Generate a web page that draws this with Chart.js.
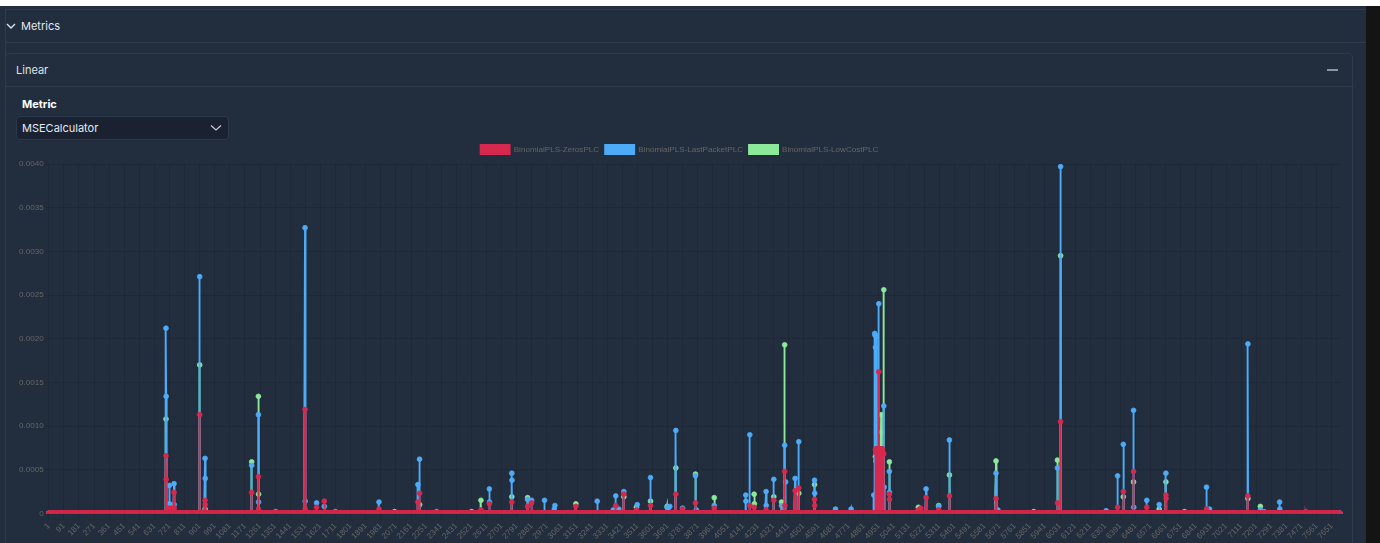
<!DOCTYPE html>
<html>
<head>
<meta charset="utf-8">
<script src="https://cdn.jsdelivr.net/npm/chart.js@4.4.0/dist/chart.umd.min.js"></script>
<style>
  html, body { margin:0; padding:0; width:1380px; height:543px; overflow:hidden; background:#222d3e; font-family: Inter, "Liberation Sans", sans-serif; }
  .abs { position:absolute; }
  #topwhite { left:0; top:0; width:1380px; height:6px; background:#ffffff; }
  #rstrip { left:1366px; top:6px; width:14px; height:537px; background:#141414; }
  #topline { left:5px; top:9px; width:1361px; height:1px; background:#2e3a4d; }
  #leftline { left:5px; top:9px; width:1px; height:534px; background:#2e3a4d; }
  #hdrline { left:5px; top:42px; width:1361px; height:1px; background:#2e3a4d; }
  #metrics { left:21px; top:18px; font-size:11px; color:#e4e7ec; line-height:16px; }
  #chev { left:5px; top:20px; }
  #panel { left:5px; top:53px; width:1348px; height:520px; border:1px solid #2e3a4d; border-radius:4px; box-sizing:border-box; }
  #panelline { left:5px; top:86px; width:1349px; height:1px; background:#2e3a4d; }
  #linear { left:16px; top:62px; font-size:11px; color:#dfe3e8; line-height:16px; }
  #dash { left:1327px; top:69px; width:11px; height:2px; background:#8f959e; }
  #metric { left:22px; top:96px; font-size:11px; font-weight:700; color:#ffffff; line-height:16px; }
  #select { left:16px; top:116px; width:213px; height:24px; background:#1a2232; border:1px solid #2c384b; border-radius:4px; box-sizing:border-box; }
  #selText { left:22px; top:120px; font-size:11px; color:#e6e9ee; line-height:16px; }
  #selChev { left:210px; top:124px; }
  #chartBox { left:8px; top:139px; width:1344px; height:404px; }
</style>
</head>
<body>
<div class="abs" id="topwhite"></div>
<div class="abs" id="rstrip"></div>
<div class="abs" id="topline"></div>
<div class="abs" id="leftline"></div>
<div class="abs" id="hdrline"></div>
<svg class="abs" id="chev" width="12" height="12" viewBox="0 0 12 12"><path d="M2 4 L6 8 L10 4" stroke="#e4e7ec" stroke-width="1.3" fill="none"/></svg>
<div class="abs" id="metrics">Metrics</div>
<div class="abs" id="panel"></div>
<div class="abs" id="panelline"></div>
<div class="abs" id="linear">Linear</div>
<div class="abs" id="dash"></div>
<div class="abs" id="metric">Metric</div>
<div class="abs" id="select"></div>
<div class="abs" id="selText">MSECalculator</div>
<svg class="abs" id="selChev" width="12" height="8" viewBox="0 0 12 8"><path d="M1 1.5 L6 6 L11 1.5" stroke="#c9ced6" stroke-width="1.2" fill="none"/></svg>
<div class="abs" id="chartBox"><canvas id="c"></canvas></div>

<script>
// ---------- data ----------
const POINT_COUNT = 7700;           // x categories run from 1 to 7700
const X_TICK_EVERY = 90;            // tick labels: 1, 91, 181, ...
const seriesNames = ['BinomialPLS-ZerosPLC', 'BinomialPLS-LastPacketPLC', 'BinomialPLS-LowCostPLC'];

// Non-zero values: [x label, value]; every other point is 0
const zerosSpikes = [
  [700,0.00066],[701,0.00039],[720,0.00006],[748,0.00024],[749,0.00006],[901,0.00113],
  [933,0.00015],[934,0.0001],[1211,0.00024],[1251,0.00042],[1252,0.00005],[1529,0.00119],
  [1530,0.00005],[1598,0.00007],[1644,0.00014],[1970,0.00005],[2202,0.00013],[2212,0.00023],
  [2578,0.00004],[2628,0.00011],[2762,0.00013],[2856,0.00008],[2880,0.00012],[3144,0.00008],
  [3382,0.00009],[3430,0.00022],[3505,0.00004],[3589,0.00009],[3740,0.00022],[3780,0.00005],
  [3857,0.00012],[3969,0.00006],[4181,0.00009],[4207,0.00007],[4278,0.00004],[4324,0.00015],
  [4389,0.00048],[4390,0.00009],[4451,0.00026],[4473,0.00029],[4567,0.00016],[4568,0.00009],
  [4930,0.00073],[4932,0.0007],[4934,0.00074],[4936,0.00072],[4938,0.00069],[4940,0.00073],
  [4942,0.00071],[4944,0.00074],[4946,0.0007],[4948,0.00072],
  [4950,0.00162],[4952,0.00073],[4954,0.00071],[4956,0.00074],[4958,0.0007],[4960,0.00073],
  [4962,0.00072],[4964,0.00074],[4966,0.0007],[4968,0.00073],[4970,0.00071],[4972,0.00074],
  [4974,0.0007],[4980,0.00068],[5013,0.00022],[5014,0.00016],[5186,0.00004],
  [5200,0.00006],[5232,0.00018],[5307,0.00004],[5371,0.0002],[5649,0.00017],[6015,0.00012],
  [6034,0.00105],[6374,0.00007],[6408,0.00025],[6469,0.00048],[6548,0.00007],[6662,0.00021],
  [6663,0.00017],[6904,0.00005],[7151,0.0002],[7497,0.00002]
];
const lastPacketSpikes = [
  [700,0.00212],[701,0.00134],[720,0.00032],[721,0.00011],[748,0.00034],[749,0.0001],
  [901,0.00271],[933,0.00063],[934,0.0004],[1211,0.00055],[1251,0.00113],[1252,0.00013],
  [1354,0.00002],[1529,0.00327],[1530,0.00014],[1598,0.00012],[1644,0.00008],[1710,0.00002],
  [1970,0.00013],[2202,0.00033],[2212,0.00062],[2313,0.00002],[2628,0.00028],[2629,0.00013],
  [2762,0.00046],[2763,0.00038],[2856,0.00016],[2880,0.00015],[2957,0.00015],[3015,0.00005],
  [3019,0.00009],[3271,0.00014],[3367,0.00004],[3382,0.0002],[3400,0.00005],[3430,0.00025],
  [3510,0.0001],[3589,0.00041],[3688,0.00007],[3704,0.00008],[3740,0.00095],[3780,0.00006],
  [3857,0.00043],[3862,0.00004],[3969,0.00009],[4157,0.00021],[4158,0.00014],[4181,0.0009],
  [4278,0.00025],[4279,0.00009],[4324,0.00039],[4370,0.00009],[4389,0.00078],[4395,0.00036],
  [4451,0.0004],[4473,0.00082],[4567,0.00038],[4568,0.00023],[4692,0.00005],[4785,0.00005],
  [4920,0.00021],[4926,0.00206],[4928,0.00204],[4930,0.0019],[4932,0.0006],[4934,0.00203],
  [4936,0.0006],[4950,0.0024],[4952,0.0006],[4980,0.00123],[4982,0.0003],[5013,0.00048],
  [5014,0.00024],[5186,0.00003],[5232,0.00028],[5307,0.00008],[5371,0.00084],[5649,0.00046],
  [5660,0.00004],[6015,0.00052],[6034,0.00397],[6306,0.00003],[6374,0.00043],[6408,0.00079],
  [6469,0.00118],[6470,0.00007],[6548,0.00015],[6622,0.0001],[6662,0.00046],[6904,0.0003],
  [6922,0.00005],[7151,0.00194],[7225,0.00004],[7248,0.00002],[7340,0.00013],[7341,0.00005]
];
const lowCostSpikes = [
  [700,0.00108],[901,0.0017],[933,0.00005],[1211,0.00059],[1251,0.00134],[1252,0.00022],
  [2063,0.00002],[2212,0.0001],[2522,0.00002],[2578,0.00015],[2762,0.00019],[2856,0.00018],
  [3144,0.00011],[3430,0.00019],[3505,0.00007],[3589,0.00014],[3688,0.00008],[3740,0.00052],
  [3857,0.00045],[3969,0.00018],[4207,0.00022],[4208,0.00011],[4324,0.00019],[4370,0.00013],
  [4389,0.00193],[4473,0.00023],[4567,0.00033],[4930,0.00065],[4964,0.00113],[4966,0.00093],
  [4980,0.00256],[5013,0.00059],[5186,0.00007],[5307,0.00009],[5371,0.00044],[5649,0.0006],
  [5874,0.00002],[6015,0.00061],[6034,0.00295],[6408,0.00019],[6469,0.00036],[6622,0.00005],
  [6662,0.00036],[6773,0.00002],[6920,0.00002],[7151,0.00017],[7225,0.00008]
];
const yTickValues = [0, 0.0005, 0.001, 0.0015, 0.002, 0.0025, 0.003, 0.0035, 0.004];

// ---------- build ----------
const categories = Array.from({length: POINT_COUNT}, (_, i) => String(i + 1));
function series(spikes) {
  const arr = new Array(POINT_COUNT).fill(0);
  spikes.forEach(([label, v]) => { arr[label - 1] = v; });
  return arr;
}
const colors = ['#d6294e', '#4dabf7', '#8ce99a'];
const FONT = { family: "'Helvetica Neue', Helvetica, Arial, 'Liberation Sans', sans-serif", size: 8.1 };

function ds(label, data, color) {
  return {
    label, data,
    borderColor: color, backgroundColor: color,
    pointBackgroundColor: color, pointBorderColor: color,
    borderWidth: 1.9, pointRadius: 2.4, pointBorderWidth: 0.8,
    pointHoverRadius: 3, tension: 0, spanGaps: true
  };
}

new Chart(document.getElementById('c'), {
  type: 'line',
  data: {
    labels: categories,
    datasets: [
      ds(seriesNames[0], series(zerosSpikes), colors[0]),
      ds(seriesNames[1], series(lastPacketSpikes), colors[1]),
      ds(seriesNames[2], series(lowCostSpikes), colors[2])
    ]
  },
  options: {
    responsive: true, maintainAspectRatio: false, animation: false,
    layout: { padding: { left: 11, right: 12, top: 0, bottom: 0 } },
    plugins: {
      legend: {
        display: true, position: 'top',
        labels: { color: '#666', font: FONT, boxWidth: 29, boxHeight: 9, padding: 6 }
      },
      tooltip: { enabled: false }
    },
    scales: {
      x: {
        type: 'category',
        afterBuildTicks: (scale) => { scale.ticks = scale.ticks.filter(t => t.value % X_TICK_EVERY === 0); },
        ticks: {
          autoSkip: false, minRotation: 45, maxRotation: 45, color: '#666', font: FONT, padding: 2,
          callback: function (v) { return this.getLabelForValue(v); }
        },
        grid: { color: 'rgba(0,0,0,0.1)', tickLength: 6 },
        border: { display: false }
      },
      y: {
        min: 0, max: 0.004,
        afterBuildTicks: (scale) => { scale.ticks = yTickValues.map(v => ({ value: v })); },
        ticks: { color: '#666', font: FONT, padding: 0 },
        grid: { color: 'rgba(0,0,0,0.1)', tickLength: 5 },
        border: { display: false }
      }
    }
  }
});
</script>
</body>
</html>
